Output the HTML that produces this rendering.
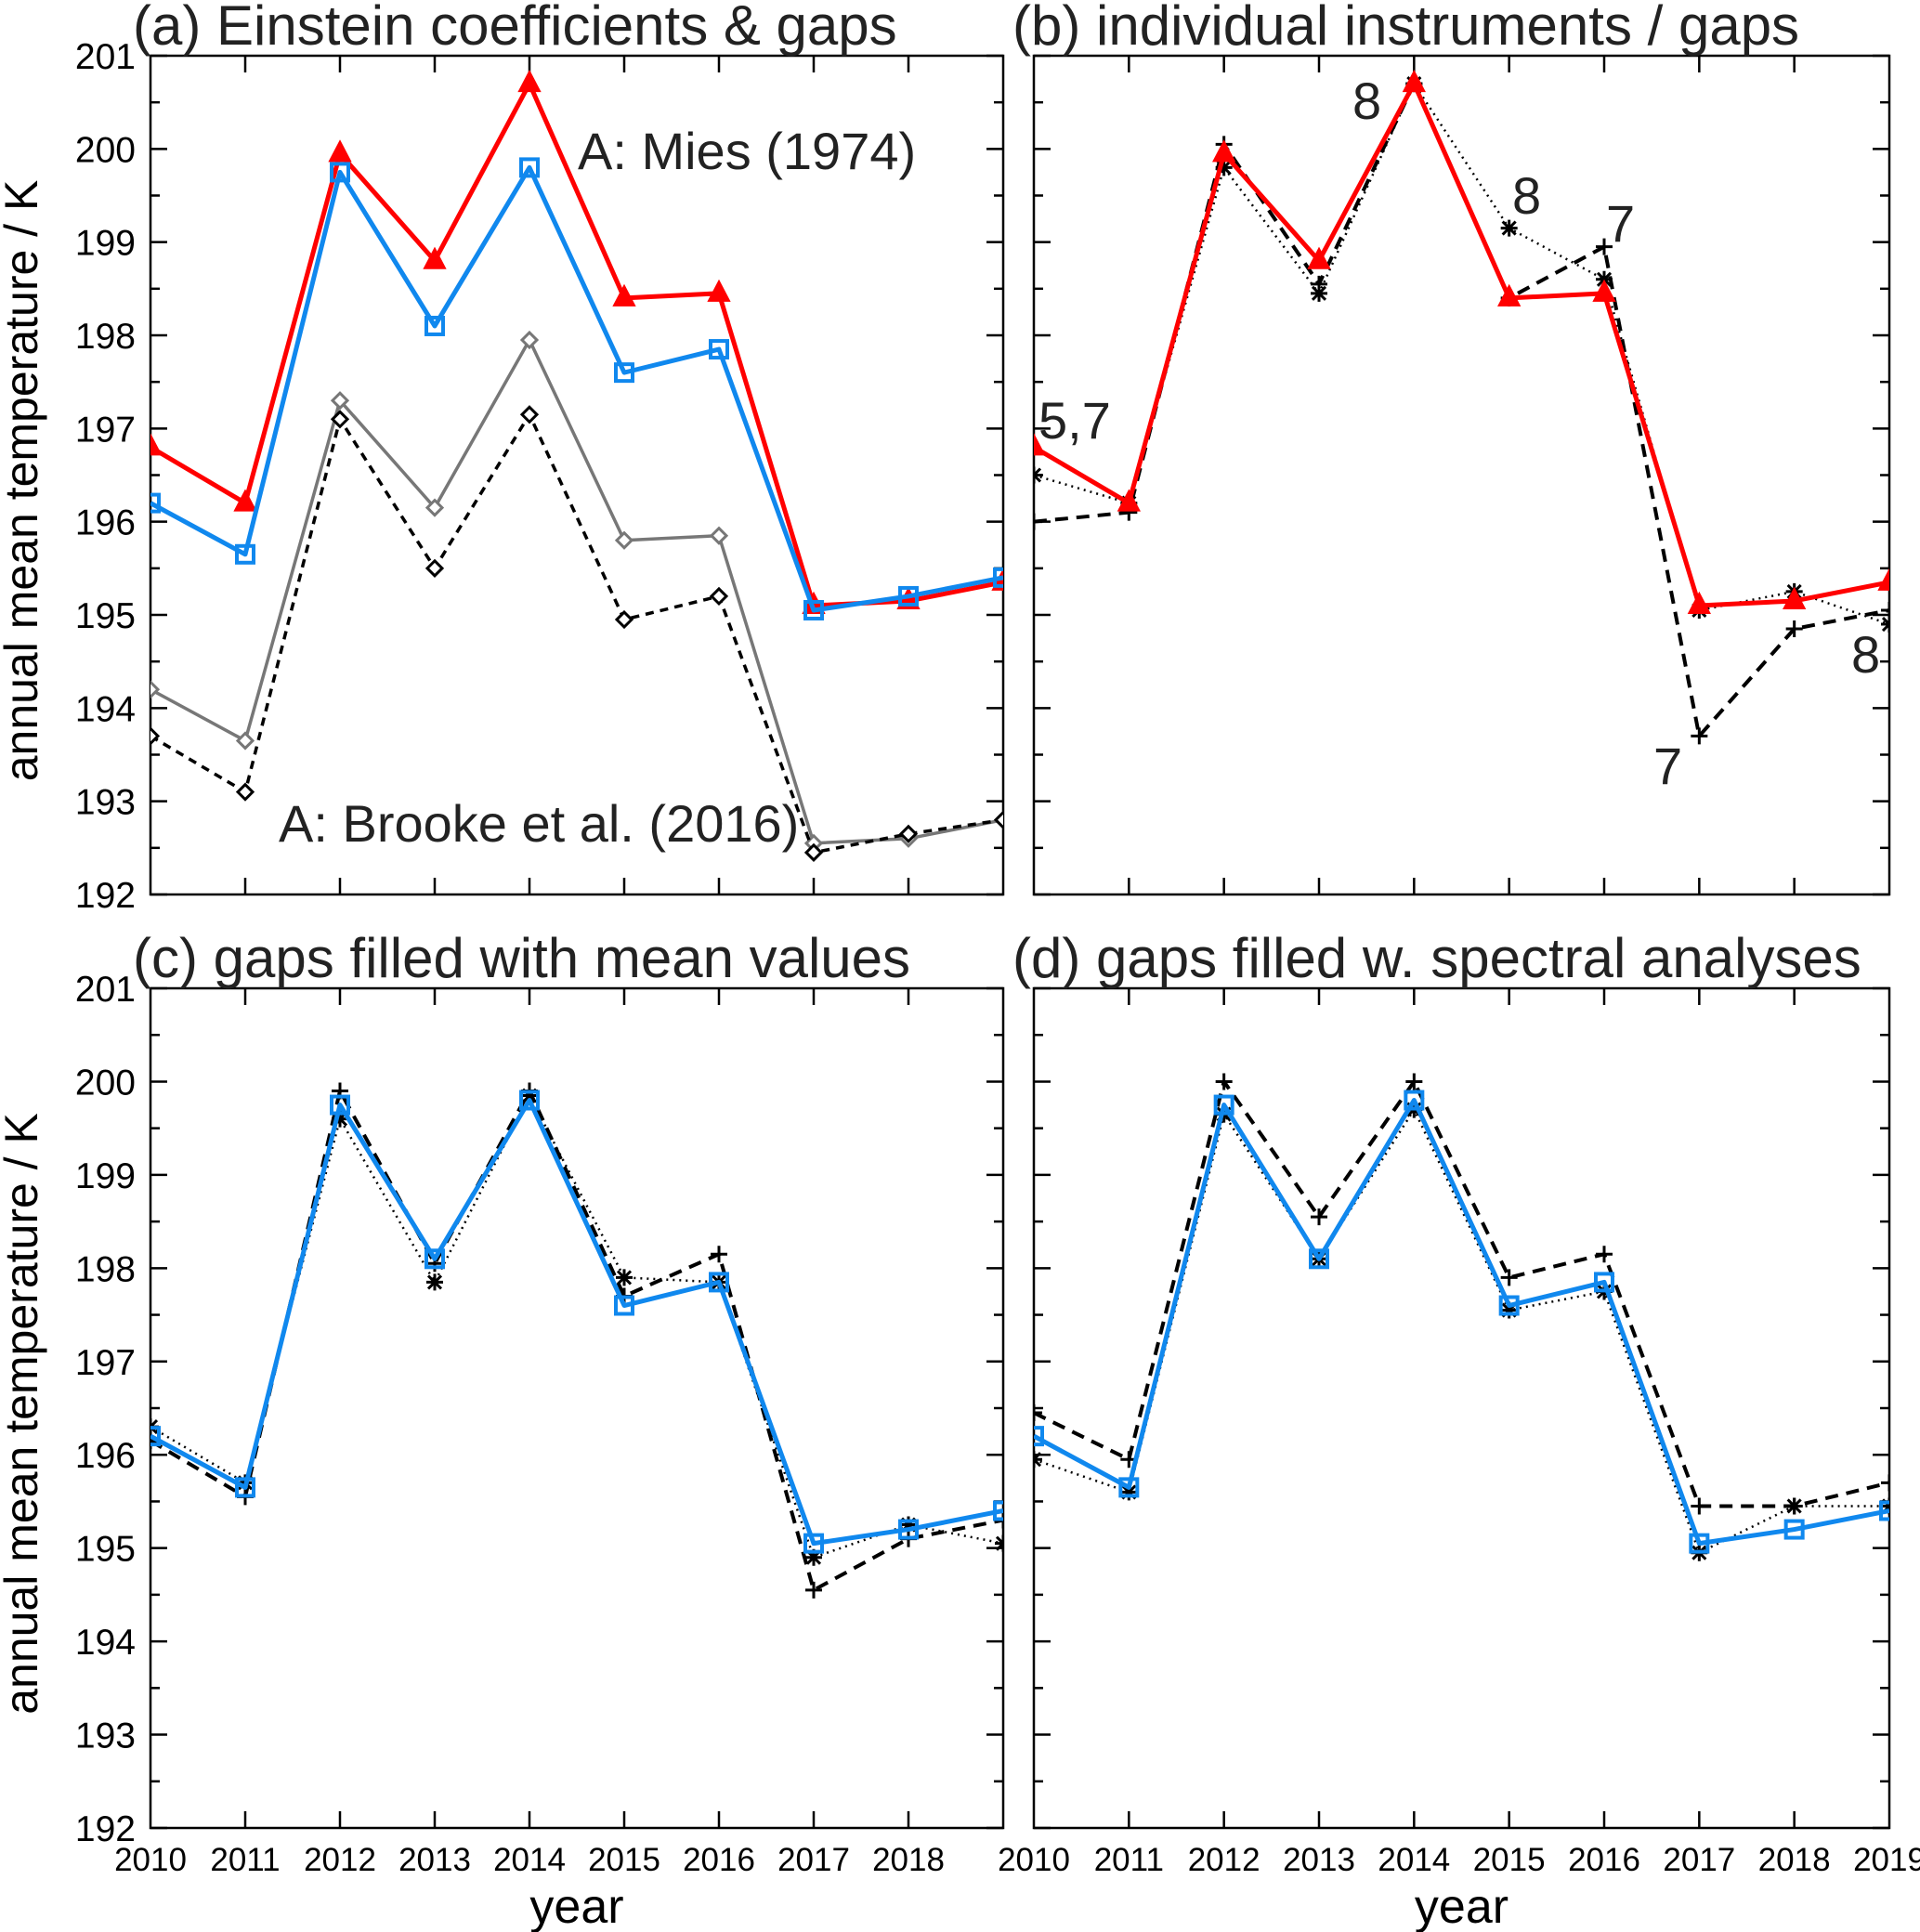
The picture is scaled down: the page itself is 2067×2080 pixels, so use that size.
<!DOCTYPE html>
<html><head><meta charset="utf-8"><style>
body{margin:0;background:#fff}
svg{display:block;font-family:"Liberation Sans",Arial,sans-serif}
</style></head><body>
<svg id="c" width="2067" height="2080"></svg>
<script>
const years=[2010,2011,2012,2013,2014,2015,2016,2017,2018,2019];
const yTicks=[192,193,194,195,196,197,198,199,200,201];
const redMies=[196.8,196.2,199.95,198.8,200.7,198.4,198.45,195.1,195.15,195.35];
const blueMies=[196.2,195.65,199.75,198.1,199.8,197.6,197.85,195.05,195.2,195.4];
const grayBrooke=[194.2,193.65,197.3,196.15,197.95,195.8,195.85,192.55,192.6,192.8];
const blackBrooke=[193.7,193.1,197.1,195.5,197.15,194.95,195.2,192.45,192.65,192.8];
const bDotted=[196.5,196.2,199.8,198.45,200.7,199.15,198.6,195.05,195.25,194.9];
const bDashed=[196.0,196.1,200.05,198.55,200.7,198.4,198.95,193.7,194.85,195.05];
const cDotted=[196.3,195.7,199.6,197.85,199.85,197.9,197.85,194.9,195.25,195.05];
const cDashed=[196.15,195.55,199.9,198.05,199.9,197.7,198.15,194.55,195.1,195.3];
const dDashed=[196.45,195.95,200.0,198.55,200.0,197.9,198.15,195.45,195.45,195.7];
const dDotted=[195.95,195.6,199.65,198.1,199.7,197.55,197.75,194.95,195.45,195.45];

const NS="http://www.w3.org/2000/svg";
const svg=document.getElementById('c');
function el(t,a,p){const e=document.createElementNS(NS,t);for(const k in a)e.setAttribute(k,a[k]);(p||svg).appendChild(e);return e;}
function txt(s,a,p){const e=el('text',a,p);e.textContent=s;return e;}

const panels=[
 {id:'a',x0:162,x1:1080,y0:60,y1:963,title:'(a) Einstein coefficients & gaps',ylab:true,xlab:false},
 {id:'b',x0:1113,x1:2034,y0:60,y1:963,title:'(b) individual instruments / gaps',ylab:false,xlab:false},
 {id:'c',x0:162,x1:1080,y0:1064,y1:1968,title:'(c) gaps filled with mean values',ylab:true,xlab:true,last:false},
 {id:'d',x0:1113,x1:2034,y0:1064,y1:1968,title:'(d) gaps filled w. spectral analyses',ylab:false,xlab:true,last:true}
];
function mk(P){
 const g=el('g',{});
 
 
 P.sx=v=>P.x0+(v-2010)/9*(P.x1-P.x0);
 P.sy=v=>P.y1-(v-192)/9*(P.y1-P.y0);
 P.g=g;
 const fr=el('rect',{x:P.x0,y:P.y0,width:P.x1-P.x0,height:P.y1-P.y0,fill:'none',stroke:'#000','stroke-width':2.5},g);
 
 
 for(let v=192;v<=201;v+=0.5){
  const y=P.sy(v),L=Number.isInteger(v)?18:10;
  el('line',{x1:P.x0,x2:P.x0+L,y1:y,y2:y,stroke:'#000','stroke-width':2.5},g);
  el('line',{x1:P.x1-L,x2:P.x1,y1:y,y2:y,stroke:'#000','stroke-width':2.5},g);
 }
 if(P.ylab) yTicks.forEach(v=>{const t=txt(v,{x:P.x0-16,y:P.sy(v)+14,'font-size':39,'text-anchor':'end',fill:'#000'},g);
  });
 years.forEach((yr,i)=>{
  const x=P.sx(yr);
  if(i>0&&i<9){el('line',{x1:x,x2:x,y1:P.y1,y2:P.y1-18,stroke:'#000','stroke-width':2.5},g);
   el('line',{x1:x,x2:x,y1:P.y0,y2:P.y0+18,stroke:'#000','stroke-width':2.5},g);}
  if(P.xlab&&(P.last||i<9)){const t=txt(yr,{x:x,y:P.y1+46,'font-size':35,'text-anchor':'middle',fill:'#000'},g);
   }
 });
 const t=txt(P.title,{x:P.id=='a'||P.id=='c'?143:1090,y:P.y0-12,'font-size':60,fill:'#222'},g);
 
 if(P.ylab){const yl=txt('annual mean temperature / K',{x:0,y:0,'font-size':50,'text-anchor':'middle',fill:'#000',transform:`translate(40,${(P.y0+P.y1)/2+6}) rotate(-90)`},g);
  }
 if(P.xlab){const xl=txt('year',{x:(P.x0+P.x1)/2,y:2070,'font-size':52,'text-anchor':'middle',fill:'#000'},g);
  }
 const cp=el('clipPath',{id:'cp'+P.id},g);el('rect',{x:P.x0,y:P.y0,width:P.x1-P.x0,height:P.y1-P.y0},cp);
 P.pg=el('g',{'clip-path':`url(#cp${P.id})`},g);
}
function marker(P,type,x,y,col){
 const g=P.pg;let m;
 if(type=='tri')m=el('path',{d:`M${x},${y-13}L${x+11},${y+8}L${x-11},${y+8}Z`,fill:col,stroke:col,'stroke-width':2},g);
 else if(type=='sq')m=el('rect',{x:x-9,y:y-9,width:18,height:18,fill:'none',stroke:col,'stroke-width':4},g);
 else if(type=='dia')m=el('path',{d:`M${x},${y-8}L${x+8},${y}L${x},${y+8}L${x-8},${y}Z`,fill:'#fff',stroke:col,'stroke-width':3},g);
 else if(type=='plus')m=el('path',{d:`M${x-9},${y}H${x+9}M${x},${y-9}V${y+9}`,stroke:col,'stroke-width':3},g);
 else m=el('path',{d:`M${x-7},${y-7}L${x+7},${y+7}M${x+7},${y-7}L${x-7},${y+7}M${x-9},${y}H${x+9}M${x},${y-9}V${y+9}`,stroke:col,'stroke-width':3},g);
 
 
}
function series(P,vals,col,w,dash,mtype,name){
 const pts=vals.map((v,i)=>[P.sx(years[i]),P.sy(v)]);
 const pl=el('polyline',{points:pts.map(p=>p.join(',')).join(' '),fill:'none',stroke:col,'stroke-width':w,'stroke-dasharray':dash||'none','stroke-linejoin':'round'},P.pg);
 
 
 pts.forEach(p=>marker(P,mtype,p[0],p[1],col));
}
panels.forEach(mk);
const [A,B,C,D]=panels;
series(A,grayBrooke,'#777',3.5,null,'dia','series-gray-brooke');
series(A,blackBrooke,'#000',3.5,'9,7','dia','series-black-brooke');
series(A,redMies,'#f00',5,null,'tri','series-red-mies');
series(A,blueMies,'#1088ee',5,null,'sq','series-blue-mies');
series(B,bDotted,'#000',2.5,'2,5','star','series-dotted');
series(B,bDashed,'#000',4,'14,9','plus','series-dashed');
series(B,redMies,'#f00',5,null,'tri','series-red');
series(C,cDotted,'#000',2.5,'2,5','star','series-dotted');
series(C,cDashed,'#000',4,'14,9','plus','series-dashed');
series(C,blueMies,'#1088ee',5,null,'sq','series-blue');
series(D,dDotted,'#000',2.5,'2,5','star','series-dotted');
series(D,dDashed,'#000',4,'14,9','plus','series-dashed');
series(D,blueMies,'#1088ee',5,null,'sq','series-blue');
function ann(P,s,x,y,name,size){const t=txt(s,{x:x,y:y,'font-size':size||56,fill:'#222'},P.g);
 }
ann(A,'A: Mies (1974)',622,182,'annotation-mies');
ann(A,'A: Brooke et al. (2016)',300,906,'annotation-brooke');
ann(B,'5,7',1118,472,'label-5-7',56);
ann(B,'8',1456,128,'label-8a',56);
ann(B,'8',1628,230,'label-8b',56);
ann(B,'7',1729,260,'label-7a',56);
ann(B,'7',1780,844,'label-7b',56);
ann(B,'8',1993,724,'label-8c',56);
</script>
</body></html>
